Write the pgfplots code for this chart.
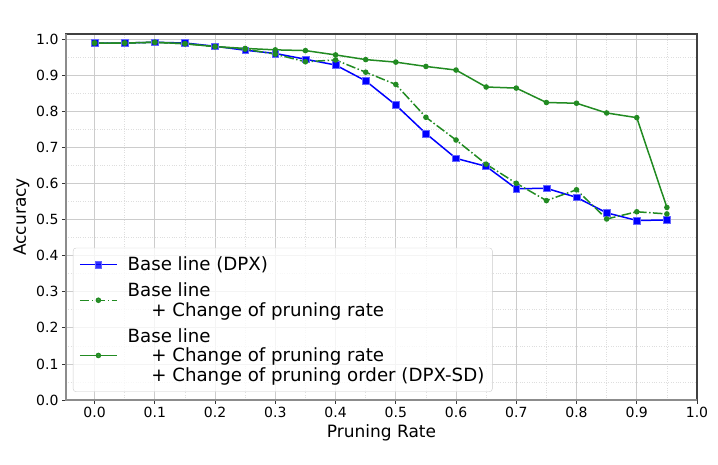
\documentclass[border=0pt]{standalone}
\usepackage{fontspec}
\setmainfont{DejaVu Sans}
\usepackage{pgfplots}
\pgfplotsset{compat=1.18}
\definecolor{lineblue}{RGB}{0,0,255}
\definecolor{linegreen}{RGB}{34,139,34}

\begin{document}
\begin{tikzpicture}
\begin{axis}[
    name=ax,
    scale only axis,
    width=631pt, height=366pt,
    xmin=-0.0475, xmax=1.0,
    ymin=0, ymax=1.015,
    xtick={0,0.1,0.2,0.3,0.4,0.5,0.6,0.7,0.8,0.9,1.0},
    ytick={0,0.1,0.2,0.3,0.4,0.5,0.6,0.7,0.8,0.9,1.0},
    minor tick num=1,
    grid=both,
    major grid style={draw=black!20, line width=0.8pt},
    minor grid style={draw=black!13, dotted, line width=0.7pt},
    tick align=outside,
    tick pos=left,
    major tick length=4pt,
    minor tick length=0pt,
    major tick style={draw=black!80, line width=0.8pt},
    axis line style={draw=black!75, line width=1.3pt},
    /pgf/number format/assume math mode=true,
    /pgf/number format/.cd, fixed, fixed zerofill, precision=1,
    /pgfplots/.cd,
    tick label style={font=\fontsize{14}{16}\selectfont},
    label style={font=\fontsize{17}{20}\selectfont},
    xlabel={Pruning Rate},
    ylabel={Accuracy},
    legend style={
        at={(0.011,0.022)}, anchor=south west,
        draw=black!20, rounded corners=3pt,
        fill=white, fill opacity=0.8, text opacity=1,
        font=\fontsize{18.2}{19.6}\selectfont,
        cells={anchor=west}, nodes={align=left},
        row sep=6.5pt, column sep=8pt, inner xsep=6pt, inner ysep=7pt,
    },
    every legend image post/.style={sharp corners},
    legend image code/.code={
        \draw[mark repeat=2, mark phase=2, #1]
        plot coordinates {(0pt,0pt) (18.5pt,0pt) (37pt,0pt)};
    },
]
\addplot[color=lineblue, line width=1.5pt, mark=square*, mark size=3.4pt,
    mark options={solid, draw=lineblue!60, line width=0.6pt, fill=lineblue}]
coordinates {
(0,0.990) (0.05,0.990) (0.1,0.992) (0.15,0.990) (0.2,0.981)
(0.25,0.970) (0.3,0.961) (0.35,0.945) (0.4,0.929) (0.45,0.885)
(0.5,0.818) (0.55,0.739) (0.6,0.670) (0.65,0.648) (0.7,0.586)
(0.75,0.587) (0.8,0.562) (0.85,0.519) (0.9,0.498) (0.95,0.499)
};
\addlegendentry{Base line (DPX)}

\addplot[color=linegreen, line width=1.5pt,
    dash pattern=on 9.6pt off 2.4pt on 1.5pt off 2.4pt,
    mark=*, mark size=2pt, mark options={solid}]
coordinates {
(0,0.990) (0.05,0.990) (0.1,0.992) (0.15,0.988) (0.2,0.980)
(0.25,0.973) (0.3,0.959) (0.35,0.938) (0.4,0.943) (0.45,0.909)
(0.5,0.875) (0.55,0.784) (0.6,0.721) (0.65,0.654) (0.7,0.601)
(0.75,0.553) (0.8,0.583) (0.85,0.502) (0.9,0.522) (0.95,0.516)
};
\addlegendentry{Base line\\\hspace*{1.3em}+ Change of pruning rate}

\addplot[color=linegreen, line width=1.5pt, mark=*, mark size=2pt]
coordinates {
(0,0.990) (0.05,0.990) (0.1,0.992) (0.15,0.988) (0.2,0.980)
(0.25,0.975) (0.3,0.971) (0.35,0.969) (0.4,0.957) (0.45,0.944)
(0.5,0.937) (0.55,0.925) (0.6,0.915) (0.65,0.868) (0.7,0.865)
(0.75,0.825) (0.8,0.823) (0.85,0.796) (0.9,0.783) (0.95,0.534)
};
\addlegendentry{Base line\\\hspace*{1.3em}+ Change of pruning rate\\\hspace*{1.3em}+ Change of pruning order (DPX-SD)}
\end{axis}
\draw[black!45, line width=1.6pt] (ax.north west) -- (ax.south west) -- (ax.south east);
\pgfresetboundingbox
\path ([shift={(-66pt,-65pt)}]ax.south west) rectangle ([shift={(21pt,34pt)}]ax.north east);
\end{tikzpicture}
\end{document}
